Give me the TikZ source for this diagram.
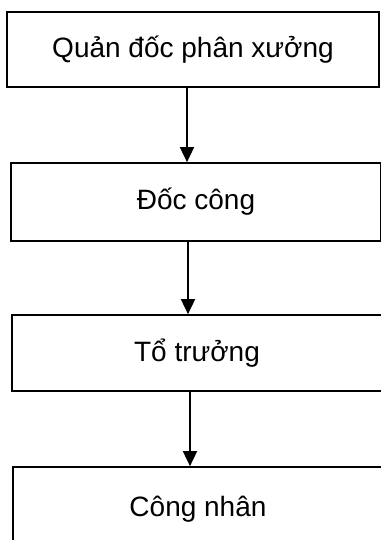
\documentclass[tikz,border=0pt]{standalone}
\usepackage{fontspec}
\setmainfont{Liberation Sans}
\usetikzlibrary{arrows.meta}
\begin{document}
\begin{tikzpicture}[x=1pt,y=-1pt,line width=1.7pt,
    box/.style={draw,rectangle,minimum width=370pt,inner sep=0pt,
      font=\fontsize{28}{30}\selectfont},
    fleche/.style={-{Triangle[width=14pt,length=15pt]}}]
  \useasboundingbox (0,0) rectangle (380,540);
  \node[box,minimum width=372pt,minimum height=75pt] (quandoc) at (193,49.5) {Quản đốc phân xưởng};
  \node[box,minimum height=78pt] (doccong) at (196,202) {Đốc công};
  \node[box,minimum height=76pt] (totruong) at (197,353) {Tổ trưởng};
  \node[box,minimum height=84pt] (congnhan) at (198,509) {Công nhân};
  % fleches entre les niveaux
  \draw[fleche] (quandoc.south -| 187,0) -- (doccong.north -| 187,0);
  \draw[fleche] (doccong.south -| 188,0) -- (totruong.north -| 188,0);
  \draw[fleche] (totruong.south -| 190,0) -- (congnhan.north -| 190,0);
\end{tikzpicture}
\end{document}
